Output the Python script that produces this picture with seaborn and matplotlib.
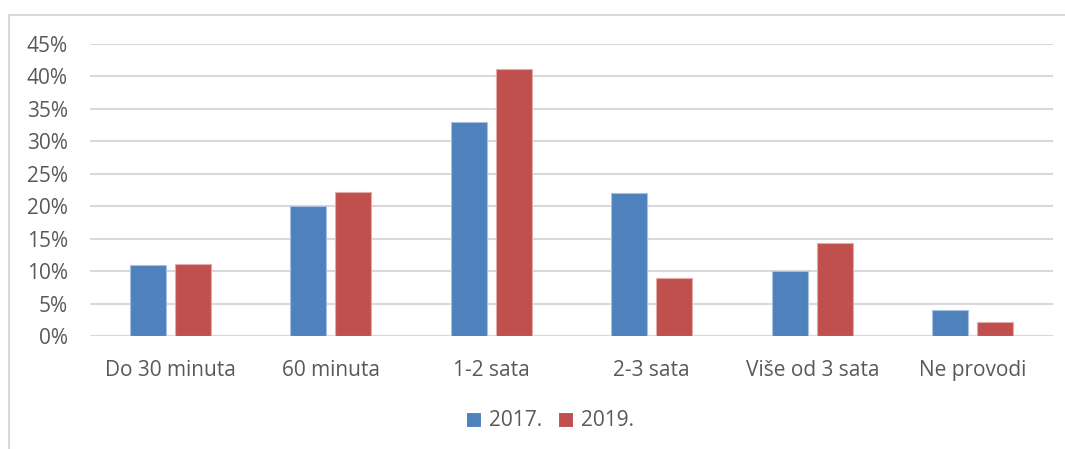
import matplotlib
matplotlib.use("Agg")
import matplotlib.pyplot as plt
import seaborn as sns
import pandas as pd
from matplotlib.patches import Rectangle
from matplotlib.ticker import PercentFormatter

categories = ["Do 30 minuta", "60 minuta", "1-2 sata", "2-3 sata", "Više od 3 sata", "Ne provodi"]
series_names = ["2017.", "2019."]
values_2017 = [11, 20, 33, 22, 10, 4]
values_2019 = [11.1, 22.2, 41.1, 8.9, 14.4, 2.2]
yticks = [0, 5, 10, 15, 20, 25, 30, 35, 40, 45]

df = pd.DataFrame({
    "cat": categories * 2,
    "year": [series_names[0]] * len(categories) + [series_names[1]] * len(categories),
    "val": values_2017 + values_2019,
})

sns.set_style("white")
plt.rcParams["font.family"] = ["Open Sans", "DejaVu Sans"]

fig = plt.figure(figsize=(10.65, 4.49), dpi=100)
ax = fig.add_axes([90 / 1065, 1 - 336 / 449, (1053 - 90) / 1065, (336 - 44) / 449])

colors = ["#4F81BD", "#C0504D"]
sns.barplot(data=df, x="cat", y="val", hue="year", palette=colors, width=0.56, gap=0.2,
            saturation=1, ax=ax, linewidth=0.8, legend=True, zorder=3)
for i, cont in enumerate(ax.containers):
    for p in cont.patches:
        p.set_edgecolor(["#A9C0E0", "#E5A9A7"][i])

ax.set_ylim(0, 45)
ax.set_xlim(-0.5, len(categories) - 0.5)
ax.set_yticks(yticks)
ax.yaxis.set_major_formatter(PercentFormatter(decimals=0))
ax.grid(axis="y", color="#D9D9D9", linewidth=1.5, zorder=0)
ax.set_axisbelow(True)
for s in ax.spines.values():
    s.set_visible(False)
ax.set_xlabel("")
ax.set_ylabel("")
ax.tick_params(axis="both", length=0, labelsize=15, colors="#595959")
ax.tick_params(axis="x", pad=17)
ax.tick_params(axis="y", pad=16)

h, l = ax.get_legend_handles_labels()
ax.legend(h, l, loc="center", bbox_to_anchor=(550 / 1065, (449 - 421) / 449), bbox_transform=fig.transFigure,
          ncol=2, frameon=False, fontsize=15, handlelength=0.72, handleheight=0.72,
          handletextpad=0.35, columnspacing=0.8, labelcolor="#595959")

fig.patches.append(Rectangle((9 / 1065, -0.1), 1.2, 1 - 15 / 449 + 0.1, transform=fig.transFigure,
                             fill=False, edgecolor="#D9D9D9", linewidth=1.5))

fig.savefig("out.png", dpi=100, facecolor="white")
